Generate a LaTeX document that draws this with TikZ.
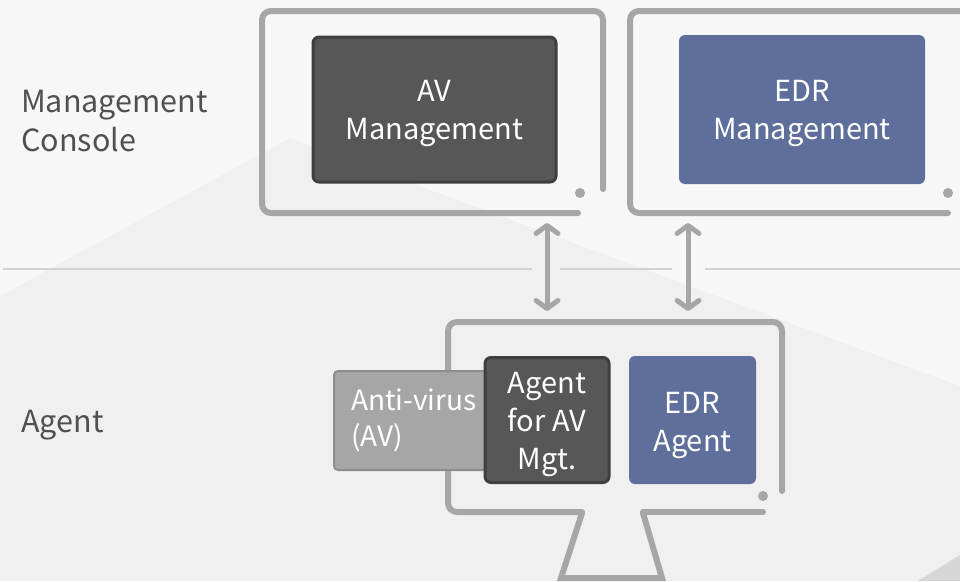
\documentclass[tikz,border=0pt]{standalone}
\usepackage{fontspec}
\setmainfont{Noto Sans CJK KR}
\usetikzlibrary{arrows.meta}

\definecolor{bgbase}{HTML}{F0F0F0}
\definecolor{bglight}{HTML}{F7F7F7}
\definecolor{bgdark}{HTML}{D6D6D6}
\definecolor{frame}{HTML}{A6A6A6}
\definecolor{divider}{HTML}{D2D2D2}
\definecolor{darkfill}{HTML}{575757}
\definecolor{darkedge}{HTML}{3F3F3F}
\definecolor{bluefill}{HTML}{5F6F9B}
\definecolor{avfill}{HTML}{A6A6A6}
\definecolor{avedge}{HTML}{8C8C8C}
\definecolor{labeltext}{HTML}{505050}

\tikzset{
  monitor/.style={draw=frame, line width=6pt, rounded corners=9pt, line cap=round, line join=round},
  standline/.style={draw=frame, line width=6pt, line cap=round, line join=miter},
  powerdot/.style={fill=frame, draw=none},
  sep/.style={draw=divider, line width=1.5pt},
  box/.style={rounded corners=6pt, inner sep=0pt},
  darkbox/.style={box, fill=darkfill, draw=darkedge, line width=3pt},
  bluebox/.style={box, fill=bluefill, draw=none},
  avbox/.style={box, fill=avfill, draw=avedge, line width=2pt, rounded corners=4pt},
  boxtext/.style={text=white, align=center, inner sep=0pt,
                  font=\fontsize{29}{38}\selectfont},
  rowlabel/.style={anchor=base west, text=labeltext, align=left,
                   font=\fontsize{30.5}{39}\selectfont, inner sep=0pt},
  link/.style={draw=frame, line width=5pt, line cap=round,
               {Straight Barb[length=8pt,width=22pt,round]}-{Straight Barb[length=8pt,width=22pt,round]}}
}

\begin{document}
\begin{tikzpicture}[x=1pt, y=-1pt]
  % canvas and soft background facets
  \useasboundingbox (0,0) rectangle (960,581);
  \fill[bgbase] (0,0) rectangle (960,581);
  \fill[bglight] (0,0) -- (960,0) -- (960,386) -- (290,138) -- (0,296) -- cycle;
  \fill[bgdark] (960,555) -- (960,581) -- (918,581) -- cycle;

  % row divider with gaps for the links
  \draw[sep] (3,269) -- (532,269);
  \draw[sep] (560,269) -- (672,269);
  \draw[sep] (705,269) -- (960,269);

  % row labels (base anchor sits on the last line)
  \node[rowlabel] (lblconsole) at (21,151) {Management\\Console};
  \node[rowlabel] (lblagent) at (21,432) {Agent};

  % AV management console
  \draw[monitor] (578,213) -- (262,213) -- (262,11) -- (603,11) -- (603,189);
  \fill[powerdot] (580,193) circle (5);
  \node[darkbox, minimum width=243pt, minimum height=145pt] (avmgmt) at (434.5,109.5) {};
  \node[boxtext] (avmgmttext) at ([yshift=-4pt]avmgmt.center) {AV\\Management};

  % EDR management console
  \draw[monitor] (948,213) -- (630,213) -- (630,11) -- (990,11);
  \fill[powerdot] (948,193) circle (5);
  \node[bluebox, minimum width=246pt, minimum height=149pt] (edrmgmt) at (802,109.5) {};
  \node[boxtext] (edrmgmttext) at ([yshift=-4pt]edrmgmt.center) {EDR\\Management};

  % agent endpoint
  \draw[monitor] (582,512) -- (448,512) -- (448,322) -- (782,322) -- (782,491);
  \draw[monitor] (643,512) -- (763,512);
  \draw[standline] (582,513) -- (561,578) -- (662,578) -- (643,513);
  \fill[powerdot] (763,496) circle (5);

  \node[avbox, minimum width=170pt, minimum height=99pt, anchor=north west] (av) at (333,370) {};
  \node[anchor=base west, text=white, align=left, inner sep=0pt,
        font=\fontsize{28}{36}\selectfont] (avtext) at (351,446) {Anti-virus\\(AV)};
  \node[darkbox, minimum width=124pt, minimum height=125pt] (agentav) at (547,420) {};
  \node[boxtext] (agentavtext) at ([yshift=-4pt]agentav.center) {Agent\\for AV\\Mgt.};
  \node[bluebox, minimum width=127pt, minimum height=128pt] (edragent) at (692.5,420) {};
  \node[boxtext] (edragenttext) at ([yshift=-5pt]edragent.center) {EDR\\Agent};

  % links between consoles and agent
  \coordinate (avup) at (547,223);
  \coordinate (avdown) at (547,311);
  \coordinate (edrup) at (688,223);
  \coordinate (edrdown) at (688,311);
  \draw[link] (avup) -- (avdown);
  \draw[link] (edrup) -- (edrdown);
\end{tikzpicture}
\end{document}
